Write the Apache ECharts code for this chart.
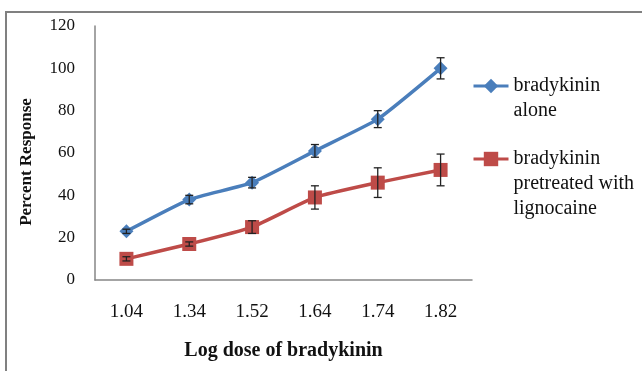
<!DOCTYPE html>
<html>
<head>
<meta charset="utf-8">
<script src="https://cdn.jsdelivr.net/npm/echarts@6/dist/echarts.min.js"></script>
<style>
  html, body { margin: 0; padding: 0; background: #fff; }
  #chart { width: 642px; height: 371px; }
</style>
</head>
<body>
<div id="chart"></div>
<script>
// log dose categories
const doses = ['1.04', '1.34', '1.52', '1.64', '1.74', '1.82']
// bradykinin alone: mean and error
const aloneMean = [23, 38, 46, 61, 76, 100]
const aloneErr = [1, 2, 2.5, 3, 4, 5]
// pretreated with lignocaine
const lignoMean = [10, 17, 25, 39, 46, 52]
const lignoErr = [1, 1, 3, 5.5, 7, 7.5]
const yTicks = [0, 20, 40, 60, 80, 100, 120]

const serif = '"Liberation Serif", "Times New Roman", serif'
const blue = '#4a7ebb'
const red = '#be4b48'

const chart = echarts.init(document.getElementById('chart'))

function errorBars(mean, err) {
  return {
    type: 'custom',
    z: 5,
    silent: true,
    data: mean.map((m, i) => [i, m - err[i], m + err[i]]),
    encode: { x: 0, y: [1, 2] },
    renderItem: function (params, api) {
      const lo = api.coord([api.value(0), api.value(1)])
      const hi = api.coord([api.value(0), api.value(2)])
      const w = 4
      const style = { stroke: '#222', lineWidth: 1.3 }
      return {
        type: 'group',
        children: [
          { type: 'line', shape: { x1: lo[0], y1: lo[1], x2: hi[0], y2: hi[1] }, style: style },
          { type: 'line', shape: { x1: lo[0] - w, y1: lo[1], x2: lo[0] + w, y2: lo[1] }, style: style },
          { type: 'line', shape: { x1: hi[0] - w, y1: hi[1], x2: hi[0] + w, y2: hi[1] }, style: style }
        ]
      }
    }
  }
}

const legendText = {
  fontFamily: serif,
  fontSize: 20,
  lineHeight: 25,
  color: '#111'
}

const option = {
  animation: false,
  grid: { left: 95, top: 26, right: 170, bottom: 91 },
  graphic: [
    {
      type: 'rect',
      shape: { x: 6, y: 12, width: 700, height: 400 },
      style: { fill: 'none', stroke: '#808080', lineWidth: 2 },
      silent: true
    },
    {
      type: 'text',
      x: 27,
      y: 162,
      rotation: Math.PI / 2,
      style: {
        text: 'Percent Response',
        font: 'bold 17px ' + serif,
        fill: '#111',
        align: 'center',
        verticalAlign: 'middle'
      }
    }
  ],
  // blank lines keep the icon level with the first text line
  legend: [
    {
      orient: 'vertical',
      left: 472,
      top: 48.5,
      padding: 0,
      itemWidth: 35,
      itemHeight: 18,
      lineStyle: { width: 3 },
      data: ['bradykinin alone'],
      formatter: function () { return '\nbradykinin\nalone' },
      textStyle: legendText
    },
    {
      orient: 'vertical',
      left: 472,
      top: 96.5,
      padding: 0,
      itemWidth: 35,
      itemHeight: 18,
      lineStyle: { width: 3 },
      data: ['bradykinin pretreated with lignocaine'],
      formatter: function () { return '\n\nbradykinin\npretreated with\nlignocaine' },
      textStyle: legendText
    }
  ],
  xAxis: {
    type: 'category',
    data: doses,
    boundaryGap: true,
    name: 'Log dose of bradykinin',
    nameLocation: 'middle',
    nameGap: 61,
    nameTextStyle: { fontFamily: serif, fontSize: 20, fontWeight: 'bold', color: '#111' },
    axisLine: { lineStyle: { color: '#868686', width: 1.5 } },
    axisTick: { show: false },
    axisLabel: { fontFamily: serif, fontSize: 19, color: '#111', margin: 23 }
  },
  yAxis: {
    type: 'value',
    min: yTicks[0],
    max: yTicks[yTicks.length - 1],
    interval: yTicks[1] - yTicks[0],
    axisLine: { show: true, lineStyle: { color: '#868686', width: 1.5 } },
    axisTick: { show: false },
    splitLine: { show: false },
    axisLabel: { fontFamily: serif, fontSize: 17, color: '#111', margin: 20 }
  },
  series: [
    {
      name: 'bradykinin alone',
      type: 'line',
      data: aloneMean,
      smooth: 0.15,
      symbol: 'diamond',
      symbolSize: 14,
      lineStyle: { color: blue, width: 3.5 },
      itemStyle: { color: blue }
    },
    {
      name: 'bradykinin pretreated with lignocaine',
      type: 'line',
      data: lignoMean,
      smooth: 0.15,
      symbol: 'rect',
      symbolSize: 14,
      lineStyle: { color: red, width: 3.5 },
      itemStyle: { color: red }
    },
    errorBars(aloneMean, aloneErr),
    errorBars(lignoMean, lignoErr)
  ]
}

chart.setOption(option)
</script>
</body>
</html>
